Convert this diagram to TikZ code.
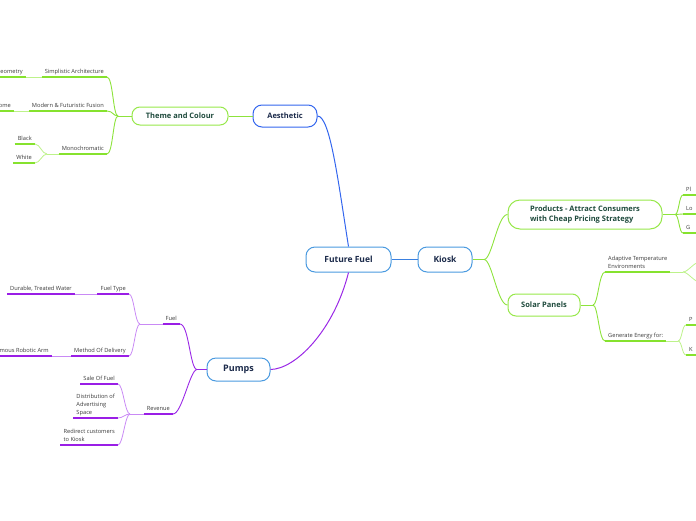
\documentclass[tikz,border=0pt]{standalone}
\usepackage{fontspec}
\setmainfont{Open Sans}
\definecolor{navytext}{HTML}{1B2A4A}
\definecolor{gtext}{HTML}{1E4A3C}
\definecolor{lbltext}{HTML}{3A3A3A}
\definecolor{blueA}{HTML}{3366EE}
\definecolor{blueB}{HTML}{4A9AE0}
\definecolor{blueL}{HTML}{3A80E0}
\definecolor{purpL}{HTML}{9A28E6}
\definecolor{purpT}{HTML}{9A1EE6}
\definecolor{purpS}{HTML}{C98AF5}
\definecolor{grnL}{HTML}{8DE33C}
\definecolor{grnT}{HTML}{86E22E}
\definecolor{grnS}{HTML}{BDF28A}
\definecolor{grnB}{HTML}{97E84A}
\begin{document}
\begin{tikzpicture}[x=1pt,y=-1pt,
  bnode/.style={draw=#1, line width=1pt, rounded corners=9pt, fill=white, text=navytext,
     font=\fontsize{8.5}{10}\selectfont\bfseries, inner sep=0pt},
  gnode/.style={draw=grnB, line width=1pt, rounded corners=8pt, fill=white, text=gtext,
     font=\fontsize{7.5}{10}\selectfont\bfseries, inner sep=0pt},
  lbl/.style={font=\fontsize{5.7}{8}\selectfont, text=lbltext, inner xsep=3pt, inner ysep=2pt,
     text depth=1.3pt, align=left},
  gthick/.style={draw=grnT, line width=1.6pt},
  gthin/.style={draw=grnS, line width=0.8pt},
  gline/.style={draw=grnL, line width=0.9pt},
  pthick/.style={draw=purpT, line width=1.6pt},
  pthin/.style={draw=purpS, line width=0.8pt},
  pline/.style={draw=purpL, line width=0.9pt},
  ul/.style={#1, line cap=butt},
]
\useasboundingbox (0,0) rectangle (696,520);
\clip (0,0) rectangle (696,520);

% ---------- main nodes ----------
\node[bnode=blueB, minimum width=85pt, minimum height=25pt] (ff) at (348.5,259.5) {Future Fuel};
\node[bnode=blueB, minimum width=54pt, minimum height=25pt] (ki) at (445,259.5) {Kiosk};
\node[bnode=blueA, minimum width=64pt, minimum height=22pt, font=\fontsize{7.5}{9}\selectfont\bfseries] (ae) at (285,116) {Aesthetic};
\node[bnode=blueB, minimum width=63pt, minimum height=23pt, font=\fontsize{9}{10}\selectfont\bfseries] (pu) at (238.5,369.5) {Pumps};

\node[gnode, minimum width=96pt, minimum height=18pt] (tc) at (180,116) {Theme and Colour};
\node[gnode, minimum width=154pt, minimum height=29pt, rounded corners=12pt, align=left] (pr) at (585,214.5) {Products - Attract Consumers\\with Cheap Pricing Strategy};
\node[gnode, minimum width=72pt, minimum height=22pt] (sp) at (544,305) {Solar Panels};

% ---------- main connectors ----------
\draw[draw=blueA, line width=1pt] (ff.north) .. controls (338,180) and (330,116) .. (ae.east);
\draw[draw=blueL, line width=1pt] (ff.east) -- (ki.west);
\draw[draw=purpL, line width=1pt] (ff.south) .. controls (334,330) and (296,369) .. (pu.east);
\draw[gline] (ae.west) -- (tc.east);

% ---------- Theme and Colour branch ----------
\node[lbl, anchor=south east] (sa) at (107,77) {Simplistic Architecture};
\node[lbl, anchor=south east] (mf) at (107,111) {Modern \& Futuristic Fusion};
\node[lbl, anchor=south east] (mo) at (107,154) {Monochromatic};
\node[lbl, anchor=south east] (bl) at (35,144) {Black};
\node[lbl, anchor=south east] (wh) at (35,163) {White};
\node[lbl, anchor=south east] (ge) at (26,77) {eometry};
\node[lbl, anchor=south east] (om) at (14,111) {ome};
\coordinate (tcf) at (118,116);
\coordinate (mof) at (47,154);
\foreach \n in {sa,mf,mo,bl,wh,ge,om} \draw[ul=gthick] (\n.south west) -- (\n.south east);
\draw[gline] (tc.west) -- (tcf);
\draw[gline] (tcf) .. controls +(-5,0) and +(6,0) .. (sa.south east);
\draw[gline] (tcf) .. controls +(-5,0) and +(6,0) .. (mf.south east);
\draw[gline] (tcf) .. controls +(-5,0) and +(6,0) .. (mo.south east);
\draw[gthin] (mo.south west) -- (mof);
\draw[gthin] (mof) .. controls +(-5,0) and +(5,0) .. (bl.south east);
\draw[gthin] (mof) .. controls +(-5,0) and +(5,0) .. (wh.south east);
\draw[gthin] (sa.south west) -- (ge.south east);
\draw[gthin] (mf.south west) -- (om.south east);

% ---------- Pumps branch ----------
\node[lbl, anchor=south east] (fu) at (180,324) {Fuel};
\node[lbl, anchor=south east] (ft) at (129,294) {Fuel Type};
\node[lbl, anchor=south east] (dw) at (75,294) {Durable, Treated Water};
\node[lbl, anchor=south east] (md) at (129,356) {Method Of Delivery};
\node[lbl, anchor=south east] (ra) at (52,356) {mous Robotic Arm};
\node[lbl, anchor=south east] (rv) at (173,414) {Revenue};
\node[lbl, anchor=south east] (sf) at (118,384) {Sale Of Fuel};
\node[lbl, anchor=south east] (da) at (118,418) {Distribution of\\Advertising\\Space};
\node[lbl, anchor=south east] (rk) at (118,445) {Redirect customers\\to Kiosk};
\coordinate (puf) at (197,369.5);
\coordinate (fuf) at (140,324);
\coordinate (rvf) at (130,414);
\foreach \n in {fu,ft,dw,md,ra,rv,sf,da,rk} \draw[ul=pthick] (\n.south west) -- (\n.south east);
\draw[pline] (pu.west) -- (puf);
\draw[pline] (puf) .. controls +(-7,0) and +(9,0) .. (fu.south east);
\draw[pline] (puf) .. controls +(-7,0) and +(9,0) .. (rv.south east);
\draw[pthin] (fu.south west) -- (fuf);
\draw[pthin] (fuf) .. controls +(-5,0) and +(5,0) .. (ft.south east);
\draw[pthin] (fuf) .. controls +(-5,0) and +(5,0) .. (md.south east);
\draw[pthin] (ft.south west) -- (dw.south east);
\draw[pthin] (md.south west) -- (ra.south east);
\draw[pthin] (rv.south west) -- (rvf);
\draw[pthin] (rvf) .. controls +(-5,0) and +(5,0) .. (sf.south east);
\draw[pthin] (rvf) .. controls +(-5,0) and +(5,0) .. (da.south east);
\draw[pthin] (rvf) .. controls +(-5,0) and +(5,0) .. (rk.south east);

% ---------- Kiosk branch ----------
\coordinate (kif) at (484,259.5);
\draw[gline] (ki.east) -- (kif);
\draw[gline] (kif) .. controls +(8,0) and +(-10,0) .. (pr.west);
\draw[gline] (kif) .. controls +(8,0) and +(-10,0) .. (sp.west);

\node[lbl, anchor=south west] (pl) at (683,195) {Pl};
\node[lbl, anchor=south west] (lo) at (683,214) {Lo};
\node[lbl, anchor=south west] (gg) at (683,233) {G};
\coordinate (prf) at (675,214.5);
\draw[gline] (pr.east) -- (prf);
\foreach \n in {pl,lo,gg} {
  \draw[ul=gthick] (\n.south west) -- ++(30,0);
  \draw[gline] (prf) .. controls +(4,0) and +(-4,0) .. (\n.south west);
}

\node[lbl, anchor=south west] (at) at (605,272) {Adaptive Temperature\\Environments};
\node[lbl, anchor=south west] (gn) at (605,341) {Generate Energy for:};
\coordinate (spf) at (593,305);
\draw[gline] (sp.east) -- (spf);
\draw[gline] (spf) .. controls +(5,0) and +(-6,0) .. (at.south west);
\draw[gline] (spf) .. controls +(5,0) and +(-6,0) .. (gn.south west);
\draw[ul=gthick] (at.south west) -- (at.south east);
\draw[ul=gthick] (gn.south west) -- (gn.south east);

\coordinate (atf) at (683,272);
\coordinate (at1) at (700,262);
\coordinate (at2) at (700,282);
\draw[gthin] (at.south east) -- (atf);
\draw[gthin] (atf) .. controls +(5,0) and +(-6,0) .. (at1);
\draw[gthin] (atf) .. controls +(5,0) and +(-6,0) .. (at2);

\node[lbl, anchor=south west] (pp) at (686,325) {P};
\node[lbl, anchor=south west] (kk) at (686,355) {K};
\coordinate (gnf) at (678,341);
\draw[gthin] (gn.south east) -- (gnf);
\foreach \n in {pp,kk} {
  \draw[ul=gthick] (\n.south west) -- ++(30,0);
  \draw[gthin] (gnf) .. controls +(4,0) and +(-4,0) .. (\n.south west);
}
\end{tikzpicture}
\end{document}
